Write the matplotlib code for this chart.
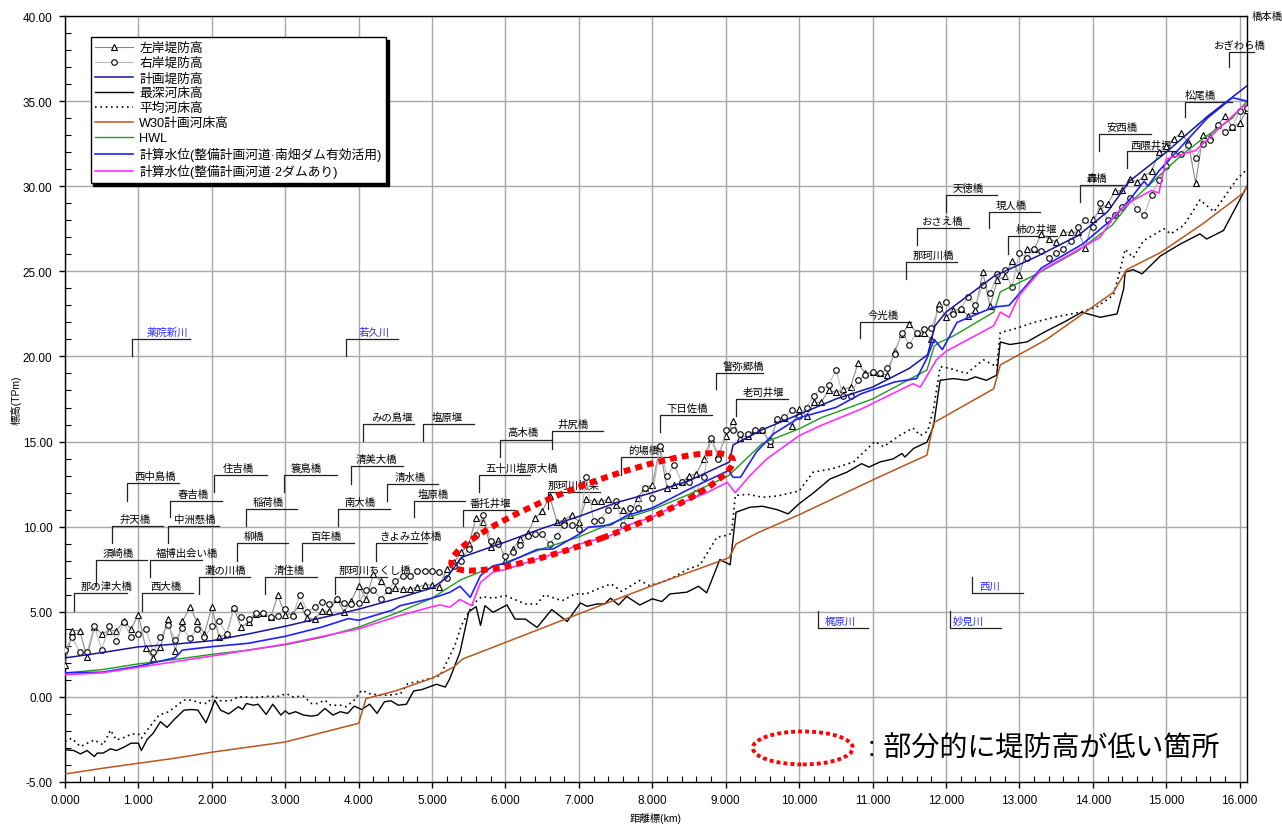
import numpy as np
import matplotlib
matplotlib.use("Agg")
import matplotlib.pyplot as plt
from matplotlib.patches import Ellipse
from matplotlib.transforms import ScaledTranslation
from matplotlib.ticker import MultipleLocator, FormatStrFormatter

plt.rcParams['font.family'] = ['Liberation Sans', 'Noto Sans CJK JP']

# ---- levee crest heights, 100 m pitch ----
km_levee = np.round(np.arange(0, 16.15, 0.1), 1)
left_bank = [
    1.88, 3.9, 3.9, 2.33, 4.1, 3.7, 3.9, 3.9, 4.43, 4.0,
    4.82, 2.86, 2.27, 2.92, 4.6, 2.72, 4.43, 5.27, 4.43, 3.7,
    5.3, 3.5, 3.7, 5.2, 4.1, 4.4, 4.88, 4.94, 4.68, 5.96,
    4.82, 4.88, 5.4, 4.62, 4.6, 5.03, 5.03, 5.76, 5.0, 5.66,
    6.54, 5.76, 7.2, 6.82, 6.3, 6.37, 6.35, 6.35, 6.44, 6.58,
    6.58, 6.44, 7.52, 7.9, 8.5, 9.0, 10.5, 10.3, 8.8, 9.2,
    8.0, 8.7, 9.27, 9.6, 10.5, 10.9, 11.8, 10.3, 10.4, 10.7,
    10.3, 11.6, 11.5, 11.5, 11.6, 11.3, 11.0, 10.7, 11.7, 12.3,
    12.45, 14.6, 12.3, 12.45, 12.6, 13.0, 13.1, 14.0, 15.16, 14.2,
    15.3, 16.2, 15.2, 15.35, 15.65, 15.7, 14.85, 16.3, 16.4, 15.94,
    16.9, 16.5, 17.3, 17.3, 18.0, 17.9, 18.06, 18.2, 19.6, 19.0,
    19.1, 19.04, 18.9, 20.3, 21.3, 21.9, 21.4, 21.4, 21.0, 23.1,
    22.3, 22.7, 22.8, 22.4, 22.7, 24.95, 22.95, 24.5, 24.7, 25.6,
    24.8, 26.3, 26.3, 27.2, 26.9, 26.75, 27.3, 27.3, 27.3, 26.4,
    28.05, 28.6, 28.95, 29.7, 29.75, 30.45, 30.24, 30.6, 30.9, 32.0,
    32.35, 32.8, 33.1, 32.6, 30.2, 33.0, 32.9, 33.6, 34.1, 33.5,
    33.7, 34.5,
]
right_bank = [
    2.78, 3.5, 2.62, 2.62, 4.15, 2.78, 4.15, 3.3, 4.39, 3.5,
    3.7, 4.0, 2.66, 3.5, 4.23, 3.37, 4.03, 3.45, 4.0, 3.5,
    4.15, 4.43, 3.7, 5.2, 4.68, 4.58, 4.93, 4.93, 4.68, 4.74,
    5.17, 4.74, 6.0, 5.01, 5.27, 5.6, 5.46, 5.76, 5.52, 5.46,
    5.52, 6.3, 6.3, 5.76, 6.3, 6.78, 7.13, 7.09, 7.42, 7.42,
    7.42, 7.36, 6.97, 7.68, 8.0, 8.7, 9.52, 10.7, 9.13, 9.0,
    8.26, 8.5, 8.9, 9.48, 9.54, 9.54, 9.0, 9.48, 10.1, 10.08,
    9.87, 12.9, 10.36, 10.42, 11.0, 11.5, 10.1, 11.1, 11.1, 12.3,
    11.7, 14.73, 13.0, 13.6, 12.6, 12.6, 12.0, 12.9, 15.2, 14.0,
    15.65, 15.65, 15.45, 15.45, 15.7, 15.66, 15.06, 16.3, 16.43, 16.87,
    16.5, 17.0, 17.7, 18.1, 18.3, 19.2, 17.7, 17.7, 18.6, 18.9,
    19.1, 19.0, 19.3, 20.15, 21.4, 20.7, 21.4, 21.6, 21.7, 22.8,
    23.2, 22.5, 22.8, 23.5, 23.0, 24.2, 23.7, 24.85, 25.1, 24.06,
    26.1, 25.8, 26.3, 26.2, 25.8, 26.1, 26.3, 26.8, 27.6, 28.0,
    27.6, 29.0, 28.0, 28.3, 28.8, 29.3, 28.66, 28.3, 29.5, 30.34,
    31.2, 31.9, 31.9, 32.4, 31.65, 32.5, 32.7, 33.6, 33.2, 33.5,
    34.4, 34.6,
]

# ---- planned levee height ----
km_plan = [0, 0.5, 1.0, 1.5, 2.0, 2.5, 3.0, 3.5, 4.0, 4.5, 5.0, 5.2, 5.4, 5.6,
           6.0, 6.5, 7.0, 7.5, 8.0, 8.5, 9.05, 9.1, 9.5, 10.0, 10.5, 11.0, 11.5,
           11.75, 11.85, 12.0, 12.65, 13.25, 13.8, 14.2, 14.5, 15.0, 15.56, 16.1]
plan_levee = [2.29, 2.6, 2.94, 3.1, 3.3, 3.7, 4.15, 4.65, 5.15, 5.75, 6.4, 7.0, 8.2, 8.5,
              9.1, 9.9, 10.6, 11.4, 12.0, 12.7, 13.8, 14.8, 15.7, 16.6, 17.5, 18.2, 19.3,
              20.1, 21.8, 22.6, 24.7, 25.9, 27.1, 28.5, 30.3, 32.0, 34.1, 35.9]

# ---- deepest riverbed ----
km_deep = [0, 0.12, 0.21, 0.3, 0.4, 0.44, 0.52, 0.62, 0.7, 0.8, 0.9, 1.0, 1.04, 1.12,
           1.2, 1.3, 1.39, 1.49, 1.62, 1.73, 1.81, 1.92, 1.99, 2.04, 2.12, 2.23, 2.36,
           2.42, 2.47, 2.57, 2.63, 2.74, 2.83, 2.94, 3.0, 3.05, 3.14, 3.25, 3.36, 3.44,
           3.54, 3.65, 3.75, 3.85, 3.94, 4.04, 4.15, 4.25, 4.35, 4.44, 4.54, 4.65, 4.75,
           4.86, 5.06, 5.18, 5.24, 5.38, 5.5, 5.6, 5.66, 5.72, 5.83, 6.02, 6.13, 6.27,
           6.43, 6.63, 6.84, 7.02, 7.11, 7.25, 7.35, 7.43, 7.54, 7.65, 7.83, 8.0, 8.13,
           8.24, 8.47, 8.63, 8.74, 8.92, 9.06, 9.14, 9.33, 9.5, 9.7, 9.85, 10.0, 10.2,
           10.42, 10.65, 10.85, 10.95, 11.1, 11.28, 11.4, 11.44, 11.56, 11.74, 11.83,
           11.92, 12.1, 12.28, 12.4, 12.55, 12.69, 12.74, 12.87, 13.1, 13.37, 13.6,
           13.85, 14.1, 14.33, 14.42, 14.44, 14.55, 14.67, 14.92, 15.19, 15.46, 15.55,
           15.78, 16.05, 16.1]
deep_bed = [-3.11, -3.15, -3.35, -3.15, -3.5, -3.3, -3.3, -3.05, -3.15, -2.96, -2.72,
            -2.72, -3.15, -2.49, -2.14, -1.46, -1.79, -1.32, -0.78, -0.74, -0.78, -1.52,
            -0.78, -0.19, -0.78, -1.0, -0.58, -0.74, -0.39, -0.49, -0.43, -1.03, -0.43,
            -1.07, -0.82, -1.0, -0.87, -1.07, -1.13, -1.07, -0.68, -1.07, -0.87, -0.97,
            -0.54, -0.74, -0.43, -0.97, -0.29, -0.23, -0.49, -0.43, 0.35, 0.43, 0.74,
            0.58, 1.06, 2.62, 5.0, 5.3, 4.2, 5.36, 4.97, 5.4, 4.57, 4.57, 4.08, 5.13,
            4.43, 5.52, 5.32, 5.46, 5.46, 5.8, 5.4, 5.9, 5.4, 5.76, 5.6, 6.05, 6.15, 6.5,
            6.11, 8.07, 7.76, 10.85, 11.14, 11.2, 11.0, 10.75, 11.35, 12.0, 12.8, 13.2,
            13.7, 13.5, 13.8, 13.98, 14.3, 14.09, 14.6, 14.96, 15.9, 18.6, 18.7, 18.6,
            18.8, 18.6, 18.9, 20.85, 20.7, 20.85, 21.5, 22.0, 22.6, 22.3, 22.5, 23.97,
            24.95, 25.1, 24.85, 25.9, 26.6, 27.2, 26.9, 27.4, 29.6, 30.0]

# ---- mean riverbed ----
km_mean = [0, 0.09, 0.21, 0.4, 0.52, 0.62, 0.7, 0.8, 0.91, 1.0, 1.04, 1.12, 1.28, 1.41,
           1.62, 1.73, 1.83, 1.94, 2.02, 2.12, 2.25, 2.36, 2.46, 2.57, 2.67, 2.78, 2.88,
           3.02, 3.09, 3.25, 3.36, 3.44, 3.54, 3.62, 3.75, 3.83, 3.94, 4.04, 4.15, 4.28,
           4.41, 4.57, 4.67, 4.78, 4.88, 5.11, 5.31, 5.4, 5.56, 5.68, 5.83, 6.0, 6.27,
           6.43, 6.53, 6.77, 6.95, 7.1, 7.26, 7.44, 7.58, 7.83, 7.96, 8.13, 8.29, 8.47,
           8.65, 8.88, 9.0, 9.08, 9.13, 9.3, 9.5, 9.7, 10.0, 10.19, 10.45, 10.74, 11.03,
           11.15, 11.37, 11.55, 11.65, 11.75, 11.83, 11.92, 12.05, 12.28, 12.51, 12.69,
           12.74, 12.92, 13.2, 13.47, 13.83, 14.05, 14.28, 14.37, 14.44, 14.55, 14.69,
           14.97, 15.06, 15.24, 15.46, 15.65, 15.96, 16.1]
mean_bed = [-2.63, -2.43, -2.92, -2.53, -2.82, -1.95, -2.53, -2.39, -2.18, -2.18, -2.43,
            -1.95, -1.07, -0.88, -0.19, -0.19, -0.35, -0.39, 0.1, -0.23, -0.23, 0.0, 0.0,
            -0.04, 0.0, 0.04, 0.0, 0.19, 0.0, 0.04, -0.39, -0.39, -0.19, -0.49, -0.49,
            -0.58, -0.19, 0.39, 0.19, 0.1, 0.1, 0.19, 0.78, 0.88, 0.97, 1.25, 3.02, 4.2,
            5.46, 5.9, 5.8, 5.95, 5.46, 5.46, 6.0, 5.65, 6.05, 6.05, 6.35, 6.64, 6.2, 6.84,
            6.54, 6.74, 7.03, 7.48, 7.76, 9.38, 9.48, 9.6, 11.83, 11.9, 11.73, 11.8, 12.1,
            13.2, 13.4, 13.8, 15.0, 14.7, 15.36, 15.8, 15.36, 15.6, 16.9, 19.4, 19.3, 19.0,
            19.8, 19.4, 21.4, 21.6, 22.0, 22.3, 22.6, 22.9, 23.6, 25.05, 26.3, 25.8, 26.8,
            27.5, 27.2, 27.7, 29.2, 28.5, 30.4, 31.0]

# ---- W30 planned riverbed ----
km_w30 = [0, 0.5, 1.0, 1.5, 2.0, 2.5, 3.0, 3.5, 4.0, 4.1, 4.5, 5.0, 5.29, 5.42, 6.0,
          7.0, 8.0, 9.0, 9.05, 9.14, 9.45, 10.0, 11.03, 11.74, 11.83, 12.65, 12.74,
          13.37, 14.28, 14.46, 14.92, 15.5, 16.05, 16.1]
w30_bed = [-4.53, -4.2, -3.9, -3.6, -3.25, -2.95, -2.65, -2.1, -1.55, -0.1, 0.35, 1.1,
           1.74, 2.23, 3.2, 4.88, 6.54, 8.1, 8.2, 8.98, 9.67, 10.7, 12.8, 14.2, 16.1,
           18.1, 19.5, 21.0, 23.77, 25.1, 26.1, 27.8, 29.6, 30.0]

# ---- HWL ----
km_hwl = [0, 0.5, 1.0, 1.5, 2.0, 2.5, 3.0, 3.5, 4.0, 4.5, 5.0, 5.25, 5.4, 5.75, 6.5,
          7.0, 7.5, 8.0, 8.5, 9.04, 9.5, 10.0, 10.3, 11.0, 11.74, 11.84, 11.9, 12.1,
          12.65, 12.74, 13.2, 13.8, 14.26, 14.5, 15.2, 15.5, 15.9, 16.1]
hwl = [1.41, 1.6, 1.94, 2.2, 2.5, 2.75, 3.06, 3.5, 4.1, 4.9, 5.8, 6.5, 6.9, 7.5, 8.7,
       9.4, 10.3, 11.0, 11.9, 13.0, 14.9, 15.75, 16.4, 17.5, 19.2, 20.6, 20.8, 21.2,
       22.6, 23.8, 24.76, 26.2, 27.7, 29.0, 31.8, 32.8, 34.0, 35.0]

# ---- computed water level: Minamihata dam use ----
km_wl1 = [0, 0.5, 1.0, 1.5, 1.6, 2.0, 2.5, 3.0, 3.5, 3.86, 4.0, 4.46, 4.56, 5.0, 5.11,
          5.24, 5.38, 5.52, 5.66, 5.83, 6.02, 6.43, 6.65, 7.02, 7.13, 7.43, 7.65, 8.0,
          8.5, 9.04, 9.1, 9.2, 9.42, 9.65, 10.0, 10.5, 10.84, 11.3, 11.6, 11.74, 11.84,
          11.95, 12.15, 12.65, 12.86, 13.3, 13.86, 14.3, 14.5, 14.7, 14.75, 14.9, 15.56,
          15.9, 16.1]
wl_minamihata = [1.41, 1.45, 1.8, 2.3, 2.75, 2.95, 3.15, 3.56, 4.1, 4.6, 4.5, 5.1, 5.35,
                 5.8, 5.95, 6.14, 6.5, 5.85, 7.13, 7.7, 7.87, 8.66, 8.69, 9.6, 9.97, 10.1,
                 10.65, 11.1, 12.2, 13.3, 12.9, 12.9, 14.4, 15.45, 16.4, 17.0, 17.8, 18.5,
                 18.7, 19.9, 21.0, 20.4, 22.0, 22.9, 23.0, 25.2, 26.6, 28.2, 29.2, 30.3,
                 30.0, 30.9, 34.0, 35.2, 35.0]

# ---- computed water level: two dams ----
km_wl2 = [0, 0.5, 1.0, 2.0, 3.0, 4.0, 4.56, 5.0, 5.11, 5.24, 5.38, 5.54, 5.66, 5.83,
          6.02, 6.43, 6.77, 7.02, 7.43, 7.65, 8.0, 8.36, 8.74, 9.02, 9.13, 9.33, 9.56,
          10.0, 10.3, 10.84, 11.55, 11.65, 11.87, 12.0, 12.65, 12.74, 12.86, 13.0, 13.28,
          14.1, 14.3, 14.5, 14.8, 14.9, 15.0, 15.4, 15.77, 16.05, 16.1]
wl_twodams = [1.3, 1.41, 1.74, 2.4, 3.1, 4.0, 4.78, 5.3, 5.4, 5.27, 5.72, 5.36, 6.73,
              7.33, 7.5, 8.11, 8.53, 8.99, 9.48, 10.07, 10.56, 11.34, 11.99, 12.6, 12.0,
              13.0, 13.98, 15.35, 15.95, 16.9, 18.4, 18.2, 19.8, 20.3, 21.8, 22.6, 22.3,
              23.6, 25.0, 27.0, 28.3, 29.06, 29.75, 29.6, 31.6, 32.1, 33.6, 34.7, 34.8]

# ---- structure labels: name, km, leader top, leader bottom, line end, text km ----
bridges = [
    ("那の津大橋", 0.12, 6.1, 5.05, 0.84, 0.57),
    ("須崎橋", 0.42, 8.05, 6.5, 1.12, 0.72),
    ("弁天橋", 0.64, 10.05, 9.05, 1.34, 0.95),
    ("西中島橋", 0.85, 12.57, 11.5, 1.55, 1.23),
    ("西大橋", 1.05, 6.1, 5.05, 1.75, 1.37),
    ("福博出会い橋", 1.16, 8.05, 7.05, 1.87, 1.66),
    ("中洲懸橋", 1.40, 10.05, 9.05, 2.10, 1.77),
    ("春吉橋", 1.43, 11.53, 10.57, 2.14, 1.74),
    ("住吉橋", 2.03, 13.06, 12.04, 2.75, 2.36),
    ("灘の川橋", 1.82, 7.05, 6.05, 2.52, 2.19),
    ("稲荷橋", 2.46, 11.05, 10.06, 3.16, 2.77),
    ("柳橋", 2.34, 9.05, 8.0, 3.04, 2.57),
    ("清住橋", 2.73, 7.05, 6.05, 3.43, 3.05),
    ("簑島橋", 2.98, 13.06, 12.04, 3.70, 3.29),
    ("百年橋", 3.23, 9.05, 8.0, 3.94, 3.55),
    ("南大橋", 3.72, 11.05, 10.06, 4.43, 4.02),
    ("清美大橋", 3.90, 13.57, 12.5, 4.60, 4.24),
    ("那珂川ちくし橋", 3.68, 7.05, 6.05, 4.38, 4.22),
    ("きよみ立体橋", 4.23, 9.05, 8.0, 4.93, 4.70),
    ("清水橋", 4.38, 12.5, 11.53, 5.08, 4.70),
    ("塩原橋", 4.75, 11.53, 10.57, 5.45, 5.01),
    ("みの島堰", 4.06, 16.04, 15.06, 4.76, 4.45),
    ("塩原堰", 4.88, 16.04, 15.06, 5.57, 5.20),
    ("番托井堰", 5.42, 11.0, 10.04, 6.13, 5.80),
    ("五十川塩原大橋", 5.64, 13.04, 12.06, 6.34, 6.22),
    ("那珂川橋梁", 6.58, 12.04, 11.06, 7.29, 6.92),
    ("高木橋", 5.92, 15.12, 14.1, 6.63, 6.24),
    ("井尻橋", 6.63, 15.6, 14.57, 7.33, 6.92),
    ("的場橋", 7.58, 14.1, 13.04, 8.27, 7.88),
    ("下日佐橋", 8.11, 16.57, 15.57, 8.81, 8.48),
    ("警弥郷橋", 8.87, 19.04, 18.06, 9.51, 9.24),
    ("老司井堰", 9.14, 17.5, 16.53, 9.85, 9.51),
    ("今光橋", 10.83, 22.05, 21.1, 11.53, 11.14),
    ("那珂川橋", 11.45, 25.55, 24.56, 12.15, 11.83),
    ("おさえ橋", 11.61, 27.55, 26.52, 12.32, 11.96),
    ("天徳橋", 12.00, 29.5, 28.5, 12.69, 12.30),
    ("現人橋", 12.58, 28.5, 27.55, 13.28, 12.89),
    ("柿の井堰", 12.85, 27.08, 26.03, 13.51, 13.23),
    ("轟橋", 13.82, 30.08, 29.08, 14.47, 14.06),
    ("安西橋", 14.09, 33.08, 32.04, 14.79, 14.40),
    ("西隈井堰", 14.46, 32.04, 31.08, 15.15, 14.80),
    ("松尾橋", 15.26, 34.96, 34.08, 15.90, 15.46),
    ("おぎわら橋", 15.86, 37.9, 37.0, 16.19, 16.00),
]
# tributaries: name, km, top, bottom, line end, text km, line at top?
tributaries = [
    ("薬院新川", 0.91, 21.03, 20.03, 1.70, 1.39, True),
    ("若久川", 3.83, 21.03, 20.03, 4.54, 4.21, True),
    ("梶原川", 10.25, 5.07, 4.05, 10.94, 10.56, False),
    ("妙見川", 12.06, 5.07, 4.05, 12.75, 12.30, False),
    ("西川", 12.35, 7.05, 6.10, 13.05, 12.59, False),
]

W, H = 1282, 828
fig = plt.figure(figsize=(W / 100, H / 100), dpi=100)
ax = fig.add_axes([65 / W, 45 / H, 1182 / W, 766 / H])

ax.set_xlim(0, 16.1)
ax.set_ylim(-5, 40)
ax.xaxis.set_major_locator(MultipleLocator(1))
ax.xaxis.set_minor_locator(MultipleLocator(0.2))
ax.yaxis.set_major_locator(MultipleLocator(5))
ax.yaxis.set_minor_locator(MultipleLocator(1))
ax.xaxis.set_major_formatter(FormatStrFormatter("%.3f"))
ax.yaxis.set_major_formatter(FormatStrFormatter("%.2f"))
ax.tick_params(which="major", direction="out", length=4, width=1, labelsize=8.5, pad=5)
ax.tick_params(which="minor", direction="in", length=4, width=0.8)
ax.grid(True, which="major", color="#a8a8a8", linewidth=1.0)
ax.set_axisbelow(True)
for s in ax.spines.values():
    s.set_linewidth(1.0)

ax.set_xlabel("距離標(km)", fontsize=7.5, labelpad=4)
ax.set_ylabel("標高(TPm)", fontsize=7.5, labelpad=1)

ax.plot(km_levee, left_bank, "-", color="#8a8a8a", lw=0.8, marker="^", ms=4.5,
        mfc="white", mec="black", mew=0.8, label="左岸堤防高", zorder=3)
ax.plot(km_levee, right_bank, "-", color="#b8b8b8", lw=0.8, marker="o", ms=4,
        mfc="white", mec="black", mew=0.8, label="右岸堤防高", zorder=3)
ax.plot(km_plan, plan_levee, color="#14149a", lw=1.1, label="計画堤防高", zorder=4)
ax.plot(km_deep, deep_bed, color="black", lw=1.0, label="最深河床高", zorder=4)
ax.plot(km_mean, mean_bed, color="black", lw=1.2, ls=(0, (1, 2.2)), label="平均河床高", zorder=4)
ax.plot(km_w30, w30_bed, color="#b8561e", lw=1.1, label="W30計画河床高", zorder=4)
ax.plot(km_hwl, hwl, color="#1f9a1f", lw=1.0, label="HWL", zorder=4)
ax.plot(km_wl1, wl_minamihata, color="#2020ff", lw=1.2,
        label="計算水位(整備計画河道·南畑ダム有効活用)", zorder=4)
ax.plot(km_wl2, wl_twodams, color="#ff30ff", lw=1.2,
        label="計算水位(整備計画河道·2ダムあり)", zorder=4)

# structure labels
for name, x, top, bot, xend, xt in bridges:
    ax.plot([x, x, xend], [bot, top, top], color="#222222", lw=0.9, zorder=2, clip_on=False)
    ax.text(xt, top + 0.12, name, ha="center", va="bottom", fontsize=7.5, zorder=2)
ax.text(16.16, 40.0, "橋本橋", ha="left", va="center", fontsize=7.5, clip_on=False)

for name, x, top, bot, xend, xt, line_top in tributaries:
    yl = top if line_top else bot
    ax.plot([x, x, xend], [bot if line_top else top, yl, yl], color="#222222", lw=0.9, zorder=2)
    ax.text(xt, yl + 0.12, name, ha="center", va="bottom", fontsize=7.5, color="#2b2bff", zorder=2)

# highlighted low-levee section
hl_tr = fig.dpi_scale_trans + ScaledTranslation(7.18, 10.87, ax.transData)
ax.add_patch(Ellipse((0, 0), width=3.0, height=0.56, angle=20.5, transform=hl_tr,
                     fill=False, ec="#ff0000", lw=4.3, ls=(0, (1.15, 0.85)), zorder=6,
                     clip_on=False))
key_tr = fig.dpi_scale_trans + ScaledTranslation(10.05, -3.0, ax.transData)
ax.add_patch(Ellipse((0, 0), width=1.0, height=0.33, angle=0, transform=key_tr,
                     fill=False, ec="#ff0000", lw=2.8, ls=(0, (1, 0.8)), zorder=6,
                     clip_on=False))
ax.text(10.94, -3.0, ": 部分的に堤防高が低い箇所", ha="left", va="center", fontsize=20.2)

leg = ax.legend(loc="upper left", bbox_to_anchor=(0.0217, 0.972), borderaxespad=0,
                fontsize=9.2, frameon=True, fancybox=False, edgecolor="black", framealpha=1,
                shadow={"color": "black", "alpha": 1}, numpoints=1, handlelength=3.0,
                handletextpad=0.45, labelspacing=0.23, borderpad=0.35)
leg.get_frame().set_linewidth(1.0)
leg.set_zorder(10)

fig.savefig("out.png", dpi=100)
